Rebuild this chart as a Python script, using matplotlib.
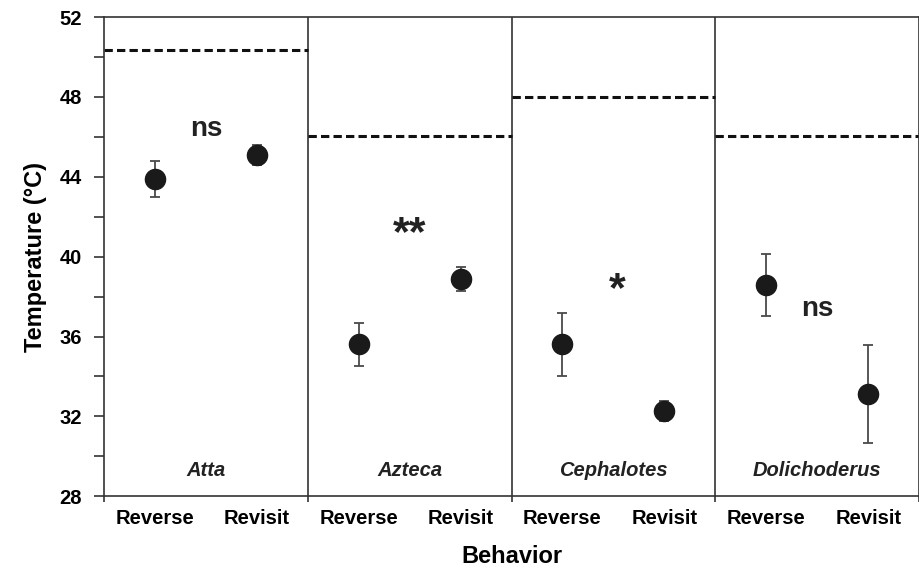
import matplotlib
matplotlib.use("Agg")
import matplotlib.pyplot as plt

plt.rcParams['font.family'] = ['Liberation Sans', 'DejaVu Sans']
plt.rcParams['lines.scale_dashes'] = False

genera = ["Atta", "Azteca", "Cephalotes", "Dolichoderus"]
behaviors = ["Reverse", "Revisit"]
reverse_mean = [43.9, 35.6, 35.6, 38.6]
reverse_err = [0.9, 1.1, 1.6, 1.55]
revisit_mean = [45.1, 38.9, 32.25, 33.1]
revisit_err = [0.5, 0.6, 0.5, 2.45]
ctmax = [50.35, 46.05, 48.0, 46.05]
significance = ["ns", "**", "*", "ns"]
sig_y = [46.4, 41.5, 38.7, 37.4]

fig = plt.figure(figsize=(9.2, 5.71), dpi=100)
ax = fig.add_axes([0.113, 0.131, 0.886, 0.839])

dark = "#1a1a1a"
for i, g in enumerate(genera):
    x_rev = 2 * i + 1
    x_vis = 2 * i + 2
    ax.errorbar([x_rev, x_vis], [reverse_mean[i], revisit_mean[i]],
                yerr=[reverse_err[i], revisit_err[i]], fmt='o', color=dark,
                ecolor="#4a4a4a", elinewidth=1.3, capsize=3.8, capthick=1.3,
                markersize=14.5, zorder=3)
    ax.hlines(ctmax[i], 2 * i + 0.5, 2 * i + 2.5, colors="#111111",
              linestyles=(0, (6, 3)), linewidth=2.2, zorder=2)
    ax.text(2 * i + 1.5, 29.3, g, ha='center', va='center', fontsize=14.5,
            fontweight='bold', fontstyle='italic', color="#222222")
    star = significance[i]
    if '*' in star:
        # asterisks sit high in the glyph box, so nudge the anchor down
        ax.text(2 * i + 1.5 + (0.04 if i == 2 else 0.0), sig_y[i] - 0.35, star,
                ha='center', va='center', fontsize=31, fontweight='bold',
                color="#222222")
    else:
        ax.text(2 * i + 1.5, sig_y[i], star, ha='center', va='center',
                fontsize=20, fontweight='bold', color="#222222")
    if i > 0:
        ax.axvline(2 * i + 0.5, color="#333333", linewidth=1.2, zorder=1)

ax.set_xlim(0.5, 8.5)
ax.set_ylim(28, 52)
ax.set_yticks(range(28, 53, 4))
ax.set_yticks(range(30, 53, 4), minor=True)
ax.tick_params(axis='y', which='both', direction='out', length=7, width=1.2,
               labelsize=14.5, colors="#333333", labelcolor="black", pad=9)
for lab in ax.get_yticklabels():
    lab.set_fontweight('bold')

ax.set_xticks([0.5, 2.5, 4.5, 6.5, 8.5])
ax.set_xticklabels([])
ax.set_xticks([j + 1 for j in range(8)], minor=True)
ax.set_xticklabels(behaviors * 4, minor=True, fontsize=14.5, fontweight='bold')
ax.tick_params(axis='x', which='major', direction='out', length=4, width=1.2,
               colors="#333333")
ax.tick_params(axis='x', which='minor', length=0, pad=9.5, labelsize=14.5)

for s in ax.spines.values():
    s.set_color("#333333")
    s.set_linewidth(1.2)

ax.set_ylabel("Temperature (°C)", fontsize=17, fontweight='bold', labelpad=9)
ax.set_xlabel("Behavior", fontsize=17, fontweight='bold', labelpad=12)

fig.savefig("out.png", dpi=100)
